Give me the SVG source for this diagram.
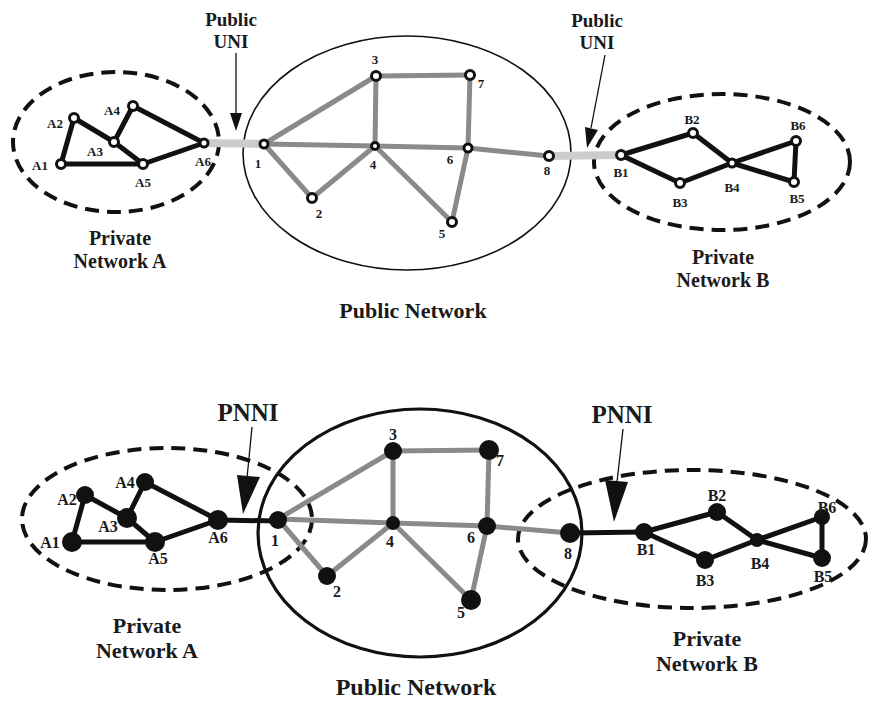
<svg xmlns="http://www.w3.org/2000/svg" width="871" height="703" viewBox="0 0 871 703">
<style>
text{font-family:"Liberation Serif","Times New Roman",serif;font-weight:bold;fill:#1a1a1a;text-anchor:middle}
.big{font-size:20px}
.uni{font-size:19px}
.big2{font-size:22px}
.pn{font-size:24px}
.pnni{font-size:25px}
.sm{font-size:13px}
.sm2{font-size:16px}
.priv{stroke:#111;stroke-width:5;stroke-linecap:round;fill:none}
.pub{stroke:#8a8a8a;stroke-width:5;stroke-linecap:round;fill:none}
.unil{stroke:#cccccc;stroke-width:8;fill:none}
.dash{fill:none;stroke:#111;stroke-width:4;stroke-dasharray:14 8}
.cloud1{fill:none;stroke:#111;stroke-width:1.6}
.cloud2{fill:none;stroke:#111;stroke-width:3.2}
.ring{fill:#fff;stroke:#111;stroke-width:3}
.dot{fill:#111}
.arr{stroke:#111;stroke-width:1.3;fill:none}
</style>
<rect width="871" height="703" fill="#fff"/>

<!-- ===== TOP DIAGRAM ===== -->
<g id="top-regions">
<ellipse class="dash" cx="116" cy="142" rx="103" ry="70"/>
<ellipse class="cloud1" cx="407" cy="153" rx="164" ry="117"/>
<ellipse class="dash" cx="722" cy="162" rx="128" ry="68"/>
</g>
<g id="top-connectors">
<line class="unil" x1="204" y1="143" x2="264" y2="144"/>
<line class="unil" x1="549" y1="156" x2="621" y2="155"/>
<line class="priv" x1="61" y1="164" x2="74" y2="118"/>
<line class="priv" x1="74" y1="118" x2="114" y2="142"/>
<line class="priv" x1="114" y1="142" x2="133" y2="106"/>
<line class="priv" x1="133" y1="106" x2="204" y2="143"/>
<line class="priv" x1="114" y1="142" x2="143" y2="164"/>
<line class="priv" x1="61" y1="164" x2="143" y2="164"/>
<line class="priv" x1="143" y1="164" x2="204" y2="143"/>
<line class="pub" x1="264" y1="144" x2="376" y2="76"/>
<line class="pub" x1="264" y1="144" x2="375" y2="146"/>
<line class="pub" x1="264" y1="144" x2="312" y2="198"/>
<line class="pub" x1="312" y1="198" x2="375" y2="146"/>
<line class="pub" x1="376" y1="76" x2="375" y2="146"/>
<line class="pub" x1="376" y1="76" x2="470" y2="75"/>
<line class="pub" x1="470" y1="75" x2="468" y2="148"/>
<line class="pub" x1="375" y1="146" x2="468" y2="148"/>
<line class="pub" x1="375" y1="146" x2="452" y2="222"/>
<line class="pub" x1="452" y1="222" x2="468" y2="148"/>
<line class="pub" x1="468" y1="148" x2="549" y2="156"/>
<line class="priv" x1="621" y1="155" x2="693" y2="133"/>
<line class="priv" x1="621" y1="155" x2="680" y2="183"/>
<line class="priv" x1="693" y1="133" x2="732" y2="163"/>
<line class="priv" x1="680" y1="183" x2="732" y2="163"/>
<line class="priv" x1="732" y1="163" x2="796" y2="141"/>
<line class="priv" x1="732" y1="163" x2="794" y2="182"/>
<line class="priv" x1="796" y1="141" x2="794" y2="182"/>
<line class="arr" x1="236" y1="53" x2="236" y2="115"/>
<polygon class="dot" points="230,113 242,113 236,131"/>
<line class="arr" x1="605" y1="55" x2="591" y2="128"/>
<polygon class="dot" points="585,127 598,130 587,148"/>
</g>
<g id="top-A1"><circle class="ring" cx="61" cy="164" r="4.5"/><text class="sm" x="40" y="170">A1</text></g>
<g id="top-A2"><circle class="ring" cx="74" cy="118" r="4.5"/><text class="sm" x="55" y="128">A2</text></g>
<g id="top-A3"><circle class="ring" cx="114" cy="142" r="4.5"/><text class="sm" x="95" y="156">A3</text></g>
<g id="top-A4"><circle class="ring" cx="133" cy="106" r="4.5"/><text class="sm" x="112" y="115">A4</text></g>
<g id="top-A5"><circle class="ring" cx="143" cy="164" r="4.5"/><text class="sm" x="143" y="187">A5</text></g>
<g id="top-A6"><circle class="ring" cx="204" cy="143" r="4"/><text class="sm" x="203" y="166">A6</text></g>
<g id="top-N1"><circle class="ring" cx="264" cy="144" r="4"/><text class="sm" x="258" y="168">1</text></g>
<g id="top-N2"><circle class="ring" cx="312" cy="198" r="4.5"/><text class="sm" x="319" y="218">2</text></g>
<g id="top-N3"><circle class="ring" cx="376" cy="76" r="4.5"/><text class="sm" x="375" y="64">3</text></g>
<g id="top-N4"><circle class="ring" cx="375" cy="146" r="3.5"/><text class="sm" x="373" y="169">4</text></g>
<g id="top-N5"><circle class="ring" cx="452" cy="222" r="4.5"/><text class="sm" x="442" y="238">5</text></g>
<g id="top-N6"><circle class="ring" cx="468" cy="148" r="4"/><text class="sm" x="450" y="164">6</text></g>
<g id="top-N7"><circle class="ring" cx="470" cy="75" r="4.5"/><text class="sm" x="481" y="88">7</text></g>
<g id="top-N8"><circle class="ring" cx="549" cy="156" r="4.5"/><text class="sm" x="547" y="175">8</text></g>
<g id="top-B1"><circle class="ring" cx="621" cy="155" r="4.5"/><text class="sm" x="621" y="177">B1</text></g>
<g id="top-B2"><circle class="ring" cx="693" cy="133" r="4.5"/><text class="sm" x="692" y="124">B2</text></g>
<g id="top-B3"><circle class="ring" cx="680" cy="183" r="4.5"/><text class="sm" x="680" y="207">B3</text></g>
<g id="top-B4"><circle class="ring" cx="732" cy="163" r="4"/><text class="sm" x="732" y="192">B4</text></g>
<g id="top-B5"><circle class="ring" cx="794" cy="182" r="4.5"/><text class="sm" x="797" y="203">B5</text></g>
<g id="top-B6"><circle class="ring" cx="796" cy="141" r="4.5"/><text class="sm" x="798" y="130">B6</text></g>
<g id="top-labels">
<text class="uni" x="231" y="26">Public</text>
<text class="uni" x="231" y="48">UNI</text>
<text class="uni" x="597" y="27">Public</text>
<text class="uni" x="597" y="49">UNI</text>
<text class="big" x="120" y="245">Private</text>
<text class="big" x="120" y="268">Network A</text>
<text class="big" x="723" y="264">Private</text>
<text class="big" x="723" y="287">Network B</text>
<text class="big2" x="413" y="318">Public Network</text>
</g>

<!-- ===== BOTTOM DIAGRAM ===== -->
<g id="bot-regions">
<ellipse class="dash" cx="167" cy="519" rx="145" ry="71"/>
<ellipse class="cloud2" cx="420" cy="533" rx="162" ry="124"/>
<ellipse class="dash" cx="692" cy="539" rx="174" ry="69"/>
</g>
<g id="bot-connectors">
<line class="priv" x1="218" y1="520" x2="278" y2="521"/>
<line class="priv" x1="570" y1="533" x2="644" y2="532"/>
<line class="priv" x1="72" y1="542" x2="85" y2="495"/>
<line class="priv" x1="85" y1="495" x2="127" y2="518"/>
<line class="priv" x1="127" y1="518" x2="145" y2="482"/>
<line class="priv" x1="145" y1="482" x2="218" y2="520"/>
<line class="priv" x1="127" y1="518" x2="155" y2="542"/>
<line class="priv" x1="72" y1="542" x2="155" y2="542"/>
<line class="priv" x1="155" y1="542" x2="218" y2="520"/>
<line class="pub" x1="278" y1="519" x2="393" y2="451"/>
<line class="pub" x1="278" y1="519" x2="393" y2="523"/>
<line class="pub" x1="278" y1="519" x2="327" y2="576"/>
<line class="pub" x1="327" y1="576" x2="393" y2="523"/>
<line class="pub" x1="393" y1="451" x2="393" y2="523"/>
<line class="pub" x1="393" y1="451" x2="489" y2="450"/>
<line class="pub" x1="489" y1="450" x2="487" y2="526"/>
<line class="pub" x1="393" y1="523" x2="487" y2="526"/>
<line class="pub" x1="393" y1="523" x2="471" y2="600"/>
<line class="pub" x1="471" y1="600" x2="487" y2="526"/>
<line class="pub" x1="487" y1="526" x2="570" y2="533"/>
<line class="priv" x1="644" y1="532" x2="717" y2="512"/>
<line class="priv" x1="644" y1="532" x2="705" y2="560"/>
<line class="priv" x1="717" y1="512" x2="757" y2="540"/>
<line class="priv" x1="705" y1="560" x2="757" y2="540"/>
<line class="priv" x1="757" y1="540" x2="822" y2="517"/>
<line class="priv" x1="757" y1="540" x2="822" y2="558"/>
<line class="priv" x1="822" y1="517" x2="822" y2="558"/>
<line class="arr" x1="252" y1="427" x2="247" y2="478"/>
<polygon class="dot" points="237,475 260,477 243,514"/>
<line class="arr" x1="623" y1="429" x2="617" y2="482"/>
<polygon class="dot" points="605,480 628,482 614,522"/>
</g>
<g id="bot-A1"><circle class="dot" cx="72" cy="542" r="10"/><text class="sm2" x="50" y="548">A1</text></g>
<g id="bot-A2"><circle class="dot" cx="85" cy="495" r="9"/><text class="sm2" x="67" y="505">A2</text></g>
<g id="bot-A3"><circle class="dot" cx="127" cy="518" r="10"/><text class="sm2" x="108" y="532">A3</text></g>
<g id="bot-A4"><circle class="dot" cx="145" cy="482" r="9"/><text class="sm2" x="125" y="488">A4</text></g>
<g id="bot-A5"><circle class="dot" cx="155" cy="542" r="10"/><text class="sm2" x="158" y="564">A5</text></g>
<g id="bot-A6"><circle class="dot" cx="218" cy="520" r="10"/><text class="sm2" x="218" y="543">A6</text></g>
<g id="bot-N1"><circle class="dot" cx="278" cy="520" r="9"/><text class="sm2" x="275" y="546">1</text></g>
<g id="bot-N2"><circle class="dot" cx="327" cy="576" r="9"/><text class="sm2" x="337" y="597">2</text></g>
<g id="bot-N3"><circle class="dot" cx="393" cy="451" r="9"/><text class="sm2" x="393" y="440">3</text></g>
<g id="bot-N4"><circle class="dot" cx="393" cy="523" r="7"/><text class="sm2" x="390" y="547">4</text></g>
<g id="bot-N5"><circle class="dot" cx="471" cy="600" r="10"/><text class="sm2" x="461" y="618">5</text></g>
<g id="bot-N6"><circle class="dot" cx="487" cy="526" r="9"/><text class="sm2" x="471" y="543">6</text></g>
<g id="bot-N7"><circle class="dot" cx="489" cy="450" r="10"/><text class="sm2" x="500" y="466">7</text></g>
<g id="bot-N8"><circle class="dot" cx="570" cy="533" r="10"/><text class="sm2" x="568" y="559">8</text></g>
<g id="bot-B1"><circle class="dot" cx="644" cy="532" r="9"/><text class="sm2" x="646" y="555">B1</text></g>
<g id="bot-B2"><circle class="dot" cx="717" cy="512" r="9"/><text class="sm2" x="717" y="501">B2</text></g>
<g id="bot-B3"><circle class="dot" cx="705" cy="560" r="9"/><text class="sm2" x="705" y="586">B3</text></g>
<g id="bot-B4"><circle class="dot" cx="757" cy="540" r="7"/><text class="sm2" x="760" y="569">B4</text></g>
<g id="bot-B5"><circle class="dot" cx="822" cy="558" r="9"/><text class="sm2" x="823" y="582">B5</text></g>
<g id="bot-B6"><circle class="dot" cx="822" cy="517" r="8"/><text class="sm2" x="827" y="513">B6</text></g>
<g id="bot-labels">
<text class="pnni" x="248" y="421">PNNI</text>
<text class="pnni" x="622" y="423">PNNI</text>
<text class="big2" x="147" y="633">Private</text>
<text class="big2" x="147" y="658">Network A</text>
<text class="big2" x="707" y="646">Private</text>
<text class="big2" x="707" y="671">Network B</text>
<text class="pn" x="416" y="695">Public Network</text>
</g>
</svg>
